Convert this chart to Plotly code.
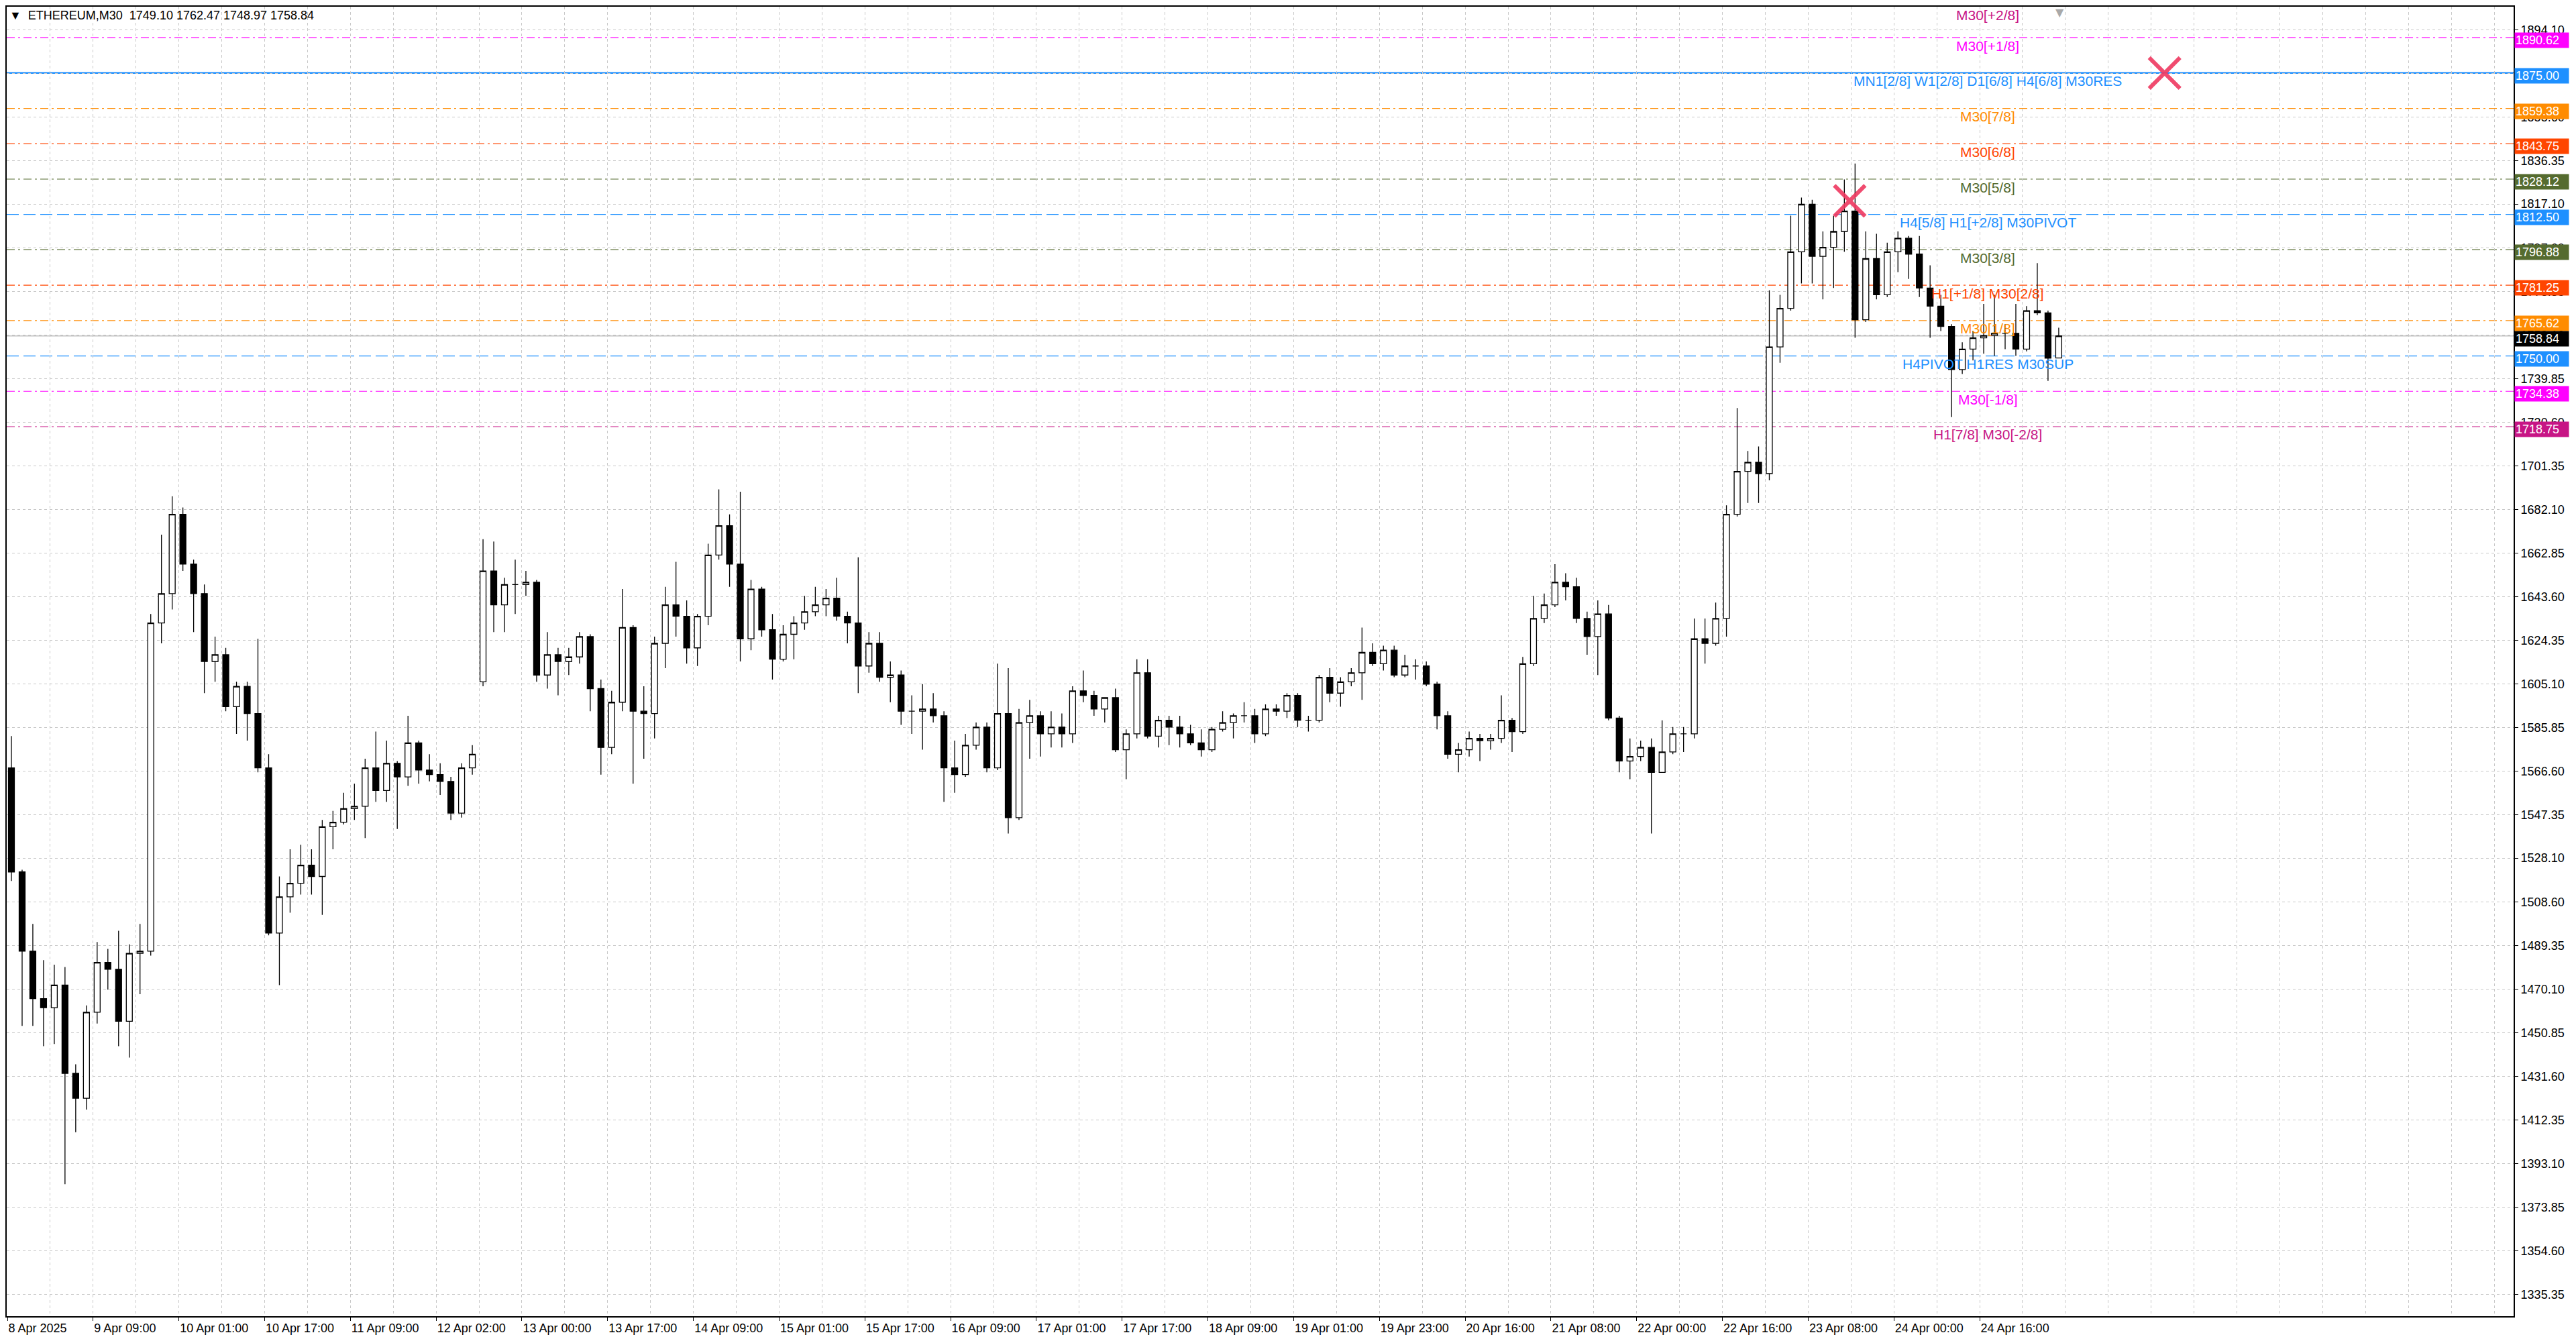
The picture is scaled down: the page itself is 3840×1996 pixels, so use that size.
import plotly.graph_objects as go

# ETHEREUM M30 chart; every candle below spans 4 M30 bars (2 hours)
bar_start = list(range(0, 768, 4))  # M30 bar index where each candle starts

opens = [
    1568, 1522, 1487, 1466, 1462, 1472, 1433, 1422, 1460, 1482, 1479, 1456,
    1486, 1487, 1632, 1645, 1680, 1658, 1645, 1615, 1618, 1595, 1604, 1592,
    1568, 1495, 1511, 1517, 1525, 1520, 1542, 1544, 1550, 1551, 1568, 1558,
    1570, 1564, 1579, 1567, 1565, 1562, 1548, 1568, 1606, 1655, 1640, 1649,
    1649, 1650, 1609, 1618, 1615, 1617, 1626, 1603, 1577, 1597, 1630, 1593,
    1592, 1623, 1640, 1635, 1621, 1635, 1662, 1675, 1658, 1625, 1647, 1629,
    1616, 1627, 1632, 1637, 1640, 1643, 1635, 1632, 1613, 1623, 1608, 1609,
    1593, 1593, 1594, 1591, 1568, 1565, 1578, 1586, 1568, 1592, 1546, 1588,
    1591, 1583, 1586, 1583, 1602, 1600, 1594, 1599, 1576, 1583, 1610, 1582,
    1589, 1586, 1583, 1579, 1576, 1585, 1588, 1591, 1591, 1583, 1594, 1593,
    1600, 1589, 1589, 1608, 1601, 1606, 1610, 1619, 1614, 1620, 1609, 1613,
    1613, 1605, 1591, 1574, 1576, 1581, 1580, 1581, 1589, 1584, 1614, 1634,
    1640, 1650, 1648, 1634, 1626, 1636, 1590, 1571, 1573, 1577, 1566, 1575,
    1583, 1583, 1625, 1623, 1634, 1680, 1699, 1703, 1698, 1754, 1771, 1796,
    1817, 1794, 1798, 1805, 1814, 1766, 1793, 1777, 1796, 1802, 1795, 1780,
    1772, 1763, 1744, 1753, 1758, 1759, 1760, 1760, 1753, 1770, 1769, 1749.10,
]
highs = [
    1582, 1523, 1499, 1483, 1481, 1480, 1437, 1463, 1491, 1488, 1496, 1490,
    1499, 1636, 1671, 1688, 1683, 1660, 1649, 1626, 1621, 1606, 1606, 1625,
    1574, 1520, 1532, 1534, 1532, 1545, 1549, 1557, 1561, 1572, 1584, 1580,
    1571, 1591, 1580, 1574, 1570, 1564, 1570, 1578, 1669, 1668, 1652, 1660,
    1655, 1651, 1628, 1621, 1621, 1628, 1627, 1607, 1602, 1647, 1631, 1604,
    1626, 1648, 1659, 1642, 1636, 1667, 1691, 1680, 1690, 1651, 1648, 1636,
    1631, 1635, 1644, 1648, 1647, 1652, 1637, 1661, 1628, 1628, 1615, 1611,
    1600, 1605, 1601, 1593, 1580, 1583, 1588, 1588, 1614, 1612, 1594, 1598,
    1593, 1593, 1592, 1604, 1611, 1602, 1599, 1603, 1585, 1616, 1616, 1591,
    1591, 1591, 1587, 1585, 1586, 1593, 1592, 1597, 1594, 1596, 1596, 1601,
    1601, 1591, 1609, 1612, 1608, 1612, 1630, 1623, 1622, 1622, 1618, 1616,
    1615, 1606, 1593, 1579, 1584, 1583, 1583, 1600, 1590, 1617, 1644, 1645,
    1658, 1654, 1652, 1637, 1642, 1640, 1591, 1581, 1580, 1581, 1589, 1586,
    1586, 1634, 1634, 1641, 1684, 1727, 1708, 1710, 1779, 1777, 1812, 1820,
    1819, 1805, 1812, 1828, 1835, 1805, 1804, 1800, 1805, 1803, 1803, 1790,
    1777, 1764, 1756, 1761, 1773, 1777, 1764, 1773, 1772, 1791, 1770, 1762.47,
]
lows = [
    1518, 1454, 1454, 1445, 1446, 1384, 1407, 1417, 1455, 1470, 1445, 1440,
    1468, 1485, 1623, 1638, 1655, 1628, 1601, 1606, 1593, 1583, 1580, 1566,
    1494, 1472, 1504, 1512, 1512, 1503, 1532, 1543, 1545, 1537, 1553, 1553,
    1541, 1560, 1561, 1562, 1556, 1545, 1546, 1565, 1604, 1628, 1628, 1636,
    1644, 1606, 1603, 1600, 1609, 1614, 1593, 1565, 1574, 1593, 1561, 1572,
    1581, 1612, 1626, 1614, 1613, 1631, 1660, 1648, 1615, 1620, 1626, 1607,
    1615, 1616, 1629, 1635, 1635, 1633, 1623, 1601, 1610, 1606, 1597, 1587,
    1583, 1576, 1588, 1553, 1557, 1564, 1576, 1566, 1567, 1539, 1545, 1572,
    1573, 1577, 1577, 1579, 1597, 1591, 1588, 1575, 1563, 1581, 1581, 1577,
    1578, 1577, 1578, 1573, 1575, 1584, 1581, 1588, 1579, 1582, 1591, 1590,
    1586, 1584, 1588, 1597, 1595, 1604, 1598, 1613, 1611, 1608, 1608, 1607,
    1604, 1585, 1572, 1566, 1573, 1571, 1576, 1579, 1575, 1583, 1613, 1632,
    1639, 1642, 1632, 1618, 1609, 1589, 1566, 1563, 1571, 1539, 1566, 1574,
    1575, 1581, 1614, 1622, 1626, 1679, 1685, 1685, 1695, 1747, 1770, 1782,
    1782, 1775, 1780, 1796, 1758, 1765, 1775, 1776, 1787, 1784, 1776, 1758,
    1761, 1723, 1742, 1748, 1751, 1750, 1753, 1750, 1752, 1768, 1739, 1748.97,
]
closes = [
    1522, 1487, 1466, 1462, 1472, 1433, 1422, 1460, 1482, 1479, 1456, 1486,
    1487, 1632, 1645, 1680, 1658, 1645, 1615, 1618, 1595, 1604, 1592, 1568,
    1495, 1511, 1517, 1525, 1520, 1542, 1544, 1550, 1551, 1568, 1558, 1570,
    1564, 1579, 1567, 1565, 1562, 1548, 1568, 1574, 1655, 1640, 1649, 1649,
    1650, 1609, 1618, 1615, 1617, 1626, 1603, 1577, 1597, 1630, 1593, 1592,
    1623, 1640, 1635, 1621, 1635, 1662, 1675, 1658, 1625, 1647, 1629, 1616,
    1627, 1632, 1637, 1640, 1643, 1635, 1632, 1613, 1623, 1608, 1609, 1593,
    1593, 1594, 1591, 1568, 1565, 1578, 1586, 1568, 1592, 1546, 1588, 1591,
    1583, 1586, 1583, 1602, 1600, 1594, 1599, 1576, 1583, 1610, 1582, 1589,
    1586, 1583, 1579, 1576, 1585, 1588, 1591, 1591, 1583, 1594, 1593, 1600,
    1589, 1589, 1608, 1601, 1606, 1610, 1619, 1614, 1620, 1609, 1613, 1613,
    1605, 1591, 1574, 1576, 1581, 1580, 1581, 1589, 1584, 1614, 1634, 1640,
    1650, 1648, 1634, 1626, 1636, 1590, 1571, 1573, 1577, 1566, 1575, 1583,
    1583, 1625, 1623, 1634, 1680, 1699, 1703, 1698, 1754, 1771, 1796, 1817,
    1794, 1798, 1805, 1814, 1766, 1793, 1777, 1796, 1802, 1795, 1780, 1772,
    1763, 1744, 1753, 1758, 1759, 1760, 1760, 1753, 1770, 1769, 1749, 1758.84,
]

# time axis labels (one every 32 M30 bars)
label_bars = list(range(0, 737, 32))
x_labels = [
    "8 Apr 2025", "9 Apr 09:00", "10 Apr 01:00", "10 Apr 17:00", "11 Apr 09:00",
    "12 Apr 02:00", "13 Apr 00:00", "13 Apr 17:00", "14 Apr 09:00", "15 Apr 01:00",
    "15 Apr 17:00", "16 Apr 09:00", "17 Apr 01:00", "17 Apr 17:00", "18 Apr 09:00",
    "19 Apr 01:00", "19 Apr 23:00", "20 Apr 16:00", "21 Apr 08:00", "22 Apr 00:00",
    "22 Apr 16:00", "23 Apr 08:00", "24 Apr 00:00", "24 Apr 16:00",
]

y_ticks = [
    1894.10, 1874.85, 1855.60, 1836.35, 1817.10, 1797.60, 1778.35, 1759.10,
    1739.85, 1720.60, 1701.35, 1682.10, 1662.85, 1643.60, 1624.35, 1605.10,
    1585.85, 1566.60, 1547.35, 1528.10, 1508.60, 1489.35, 1470.10, 1450.85,
    1431.60, 1412.35, 1393.10, 1373.85, 1354.60, 1335.35,
]

# Murrey math levels
levels = [1906.25, 1890.62, 1875.00, 1859.38, 1843.75, 1828.12, 1812.50,
          1796.88, 1781.25, 1765.62, 1750.00, 1734.38, 1718.75]
level_names = [
    "M30[+2/8]", "M30[+1/8]", "MN1[2/8] W1[2/8] D1[6/8] H4[6/8] M30RES",
    "M30[7/8]", "M30[6/8]", "M30[5/8]", "H4[5/8] H1[+2/8] M30PIVOT",
    "M30[3/8]", "H1[+1/8] M30[2/8]", "M30[1/8]", "H4PIVOT H1RES M30SUP",
    "M30[-1/8]", "H1[7/8] M30[-2/8]",
]
level_colors = ["#C71585", "#FF00FF", "#1E90FF", "#FF8C00", "#FF4500", "#556B2F",
                "#1E90FF", "#556B2F", "#FF4500", "#FF8C00", "#1E90FF", "#FF00FF",
                "#C71585"]
level_styles = ["dashdot", "dashdot", "solid", "dashdot", "dashdot", "dashdot",
                "longdash", "dashdot", "dashdot", "dashdot", "longdash", "dashdot",
                "dashdot"]

last_price = 1758.84
cross_bars = [687.5, 805]
cross_prices = [1818.5, 1875.0]
label_bar = 739

y_lo, y_hi = 1325.7, 1904.3

FONT = "Liberation Sans, Arial, sans-serif"
dash_map = {"dashdot": "12px,5px,3px,5px", "longdash": "18px,7px", "solid": "solid"}

fig = go.Figure()

fig.add_trace(go.Candlestick(
    x=[b + 1.5 for b in bar_start],
    open=opens, high=highs, low=lows, close=closes,
    increasing=dict(line=dict(color="black", width=1.3), fillcolor="white"),
    decreasing=dict(line=dict(color="black", width=1.3), fillcolor="black"),
    whiskerwidth=0, showlegend=False, hoverinfo="skip",
))

# level lines, labels and price boxes
for lv, name, col, st in zip(levels, level_names, level_colors, level_styles):
    lab = dict(text=name, showarrow=False, font=dict(family=FONT, size=21, color=col))
    if lv <= y_hi:
        fig.add_hline(y=lv, line=dict(color=col, width=2.5 if st == "solid" else 1.2,
                                      dash=dash_map[st]), layer="below")
        fig.add_annotation(x=label_bar, y=lv, yshift=-12, **lab)
        fig.add_annotation(xref="paper", x=1, y=lv, xanchor="left", yshift=-4,
                           text="%.2f" % lv, showarrow=False, bgcolor=col,
                           width=78, align="left", borderpad=1, xshift=1,
                           font=dict(family=FONT, size=18, color="white"))
    else:
        # level sits just above the visible range: label hangs at the top edge
        fig.add_annotation(x=label_bar, yref="paper", y=1, yanchor="middle",
                           yshift=-12, **lab)

fig.add_hline(y=last_price, line=dict(color="#C0C0C0", width=1.5), layer="below")
fig.add_annotation(xref="paper", x=1, y=last_price, xanchor="left", yshift=-4,
                   text="%.2f" % last_price, showarrow=False, bgcolor="black",
                   width=78, align="left", borderpad=1, xshift=1,
                   font=dict(family=FONT, size=18, color="white"))

fig.add_trace(go.Scatter(
    x=cross_bars, y=cross_prices, mode="markers", showlegend=False, hoverinfo="skip",
    marker=dict(symbol="x-thin", size=46, line=dict(width=6, color="rgba(238,55,95,0.9)")),
))

# chart title line
fig.add_annotation(xref="paper", yref="paper", x=0, y=1, xanchor="left", yanchor="top",
                   xshift=2, yshift=-1, showarrow=False,
                   text="\u25bc\u00a0\u00a0ETHEREUM,M30\u00a0\u00a01749.10 1762.47 1748.97 1758.84",
                   font=dict(family=FONT, size=18, color="black"))
# chart shift marker
fig.add_annotation(x=766, yref="paper", y=1, yanchor="top", yshift=3, showarrow=False,
                   text="\u25bc", font=dict(family="DejaVu Sans", size=16, color="#A9A9A9"))

grid = dict(showgrid=True, gridcolor="#C8C8C8", gridwidth=1, griddash="4px,4px")

fig.update_layout(
    width=3832, height=1988,
    margin=dict(l=0, r=93, t=0, b=34),
    paper_bgcolor="white", plot_bgcolor="white",
    boxgap=0.3, boxgroupgap=0.2,
    xaxis=dict(
        range=[-0.25, 935.25], rangeslider=dict(visible=False),
        tickmode="array", tickvals=label_bars, ticktext=x_labels,
        ticks="outside", ticklen=5, tickcolor="black", ticklabelposition="outside right",
        tickfont=dict(family=FONT, size=18, color="black"),
        showline=True, linecolor="black", linewidth=2, mirror=True, zeroline=False,
        minor=dict(tickmode="linear", tick0=0, dtick=16, showgrid=True,
                   gridcolor="#C8C8C8", griddash="4px,4px", ticks=""),
        **grid,
    ),
    yaxis=dict(
        side="right", range=[y_lo, y_hi],
        tickmode="array", tickvals=y_ticks, ticktext=["%.2f" % v for v in y_ticks],
        ticks="outside", ticklen=5, tickcolor="black",
        tickfont=dict(family=FONT, size=18, color="black"),
        showline=True, linecolor="black", linewidth=2, mirror=True, zeroline=False,
        **grid,
    ),
)

fig.write_html("out.html")
